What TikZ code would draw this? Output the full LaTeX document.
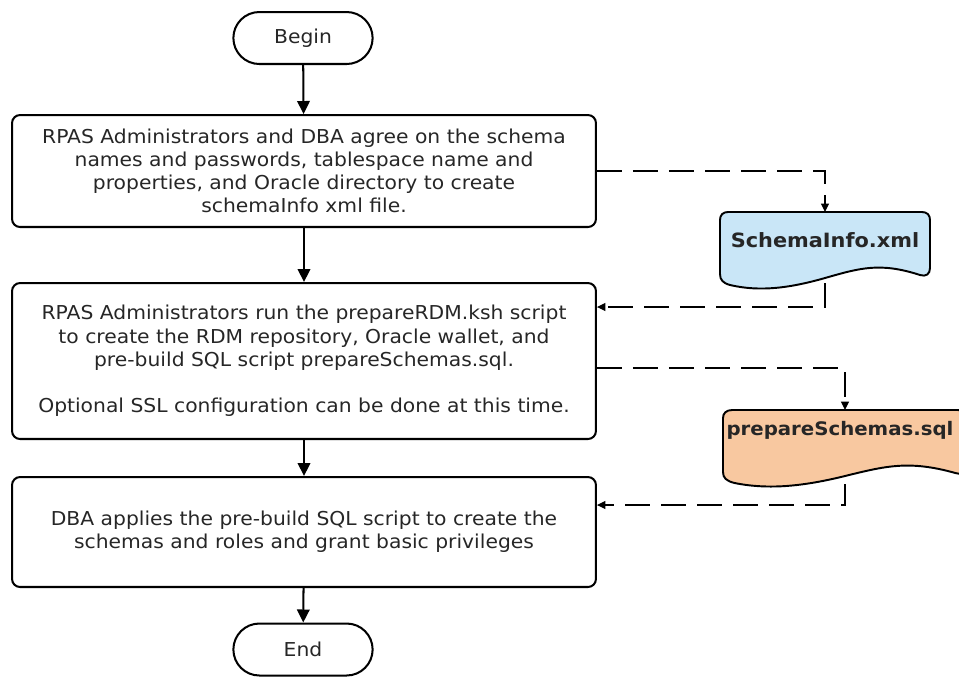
\documentclass[tikz,border=0pt]{standalone}
\usepackage{fontspec}
\setmainfont{DejaVu Sans}[FakeStretch=1.06]
\usetikzlibrary{arrows.meta,shapes.misc}
\definecolor{docblue}{HTML}{C9E6F7}
\definecolor{docorange}{HTML}{F8C8A0}
\definecolor{inkgray}{HTML}{262626}
\tikzset{
  term/.style={draw,line width=1.15pt,rounded rectangle,minimum width=3.02cm,minimum height=1.04cm,text=inkgray,font=\fontsize{10.9}{13.2}\selectfont},
  stepbox/.style={draw,line width=1.15pt,rounded corners=0.16cm,minimum width=11.68cm,align=center,text=inkgray,font=\fontsize{10.9}{13.2}\selectfont},
  doctext/.style={font=\bfseries\fontsize{11.2}{13}\selectfont,inner sep=0pt,text=inkgray},
  flow/.style={line width=1.15pt,-{Triangle[width=0.25cm,length=0.26cm]}},
  dashflow/.style={line width=0.65pt,dash pattern=on 14pt off 6.5pt,-{Triangle[width=0.16cm,length=0.17cm]}},
  docpath/.style={draw,line width=1.1pt}
}
\begin{document}
\begin{tikzpicture}[x=0.02cm,y=-0.02cm]
\useasboundingbox (0,0) rectangle (959,681);
% flow nodes
\node[term] (begin) at (303,38) {Begin};
\node[stepbox,minimum height=2.24cm] (b1) at (304,171) {RPAS Administrators and DBA agree on the schema\\names and passwords, tablespace name and\\properties, and Oracle directory to create\\schemaInfo xml file.};
\node[stepbox,minimum height=3.12cm] (b2) at (304,361) {RPAS Administrators run the prepareRDM.ksh script\\to create the RDM repository, Oracle wallet, and\\pre-build SQL script prepareSchemas.sql.\\[13.2pt]Optional SSL configuration can be done at this time.};
\node[stepbox,minimum height=2.2cm] (b3) at (304,532) {DBA applies the pre-build SQL script to create the\\schemas and roles and grant basic privileges};
\node[term] (end) at (303,649.5) {End};
% documents
\begin{scope}[shift={(825,212)}]
\path[docpath,fill=docblue] (105,8) -- (105,56) .. controls (105,62) and (101,65) .. (95,63) .. controls (55,50) and (35,56) .. (0,66) .. controls (-35,76) and (-65,80) .. (-95,73) .. controls (-102,71) and (-105,68) .. (-105,62) -- (-105,8) .. controls (-105,3) and (-102,0) .. (-97,0) -- (97,0) .. controls (102,0) and (105,3) .. (105,8) -- cycle;
\end{scope}
\begin{scope}[shift={(845,410)},xscale=1.162]
\path[docpath,fill=docorange] (105,8) -- (105,56) .. controls (105,62) and (101,65) .. (95,63) .. controls (55,50) and (35,56) .. (0,66) .. controls (-35,76) and (-65,80) .. (-95,73) .. controls (-102,71) and (-105,68) .. (-105,62) -- (-105,8) .. controls (-105,3) and (-102,0) .. (-97,0) -- (97,0) .. controls (102,0) and (105,3) .. (105,8) -- cycle;
\end{scope}
\node[doctext] (d1) at (825,240) {SchemaInfo.xml};
\node[doctext,font=\bfseries\fontsize{10.6}{13}\selectfont] (d2) at (840,430) {prepareSchemas.sql};
\coordinate (d1top) at (825,212);
\coordinate (d1bot) at (825,283);
\coordinate (r1) at (825,307);
\coordinate (d2top) at (845,410);
\coordinate (d2bot) at (845,484);
\coordinate (c2) at (845,368);
\coordinate (r2) at (845,505);
% solid connectors
\draw[flow] (begin) -- (b1);
\draw[flow] (b1) -- (b2);
\draw[flow] (b2) -- (b3);
\draw[flow] (b3) -- (end);
% dashed connectors
\draw[dashflow] (b1.east) -| (d1top);
\draw[dashflow] (d1bot) -- (r1) -- (b2.east |- r1);
\draw[dashflow] (b2.east |- c2) -| (d2top);
\draw[dashflow] (d2bot) -- (r2) -- (b3.east |- r2);
\end{tikzpicture}
\end{document}
